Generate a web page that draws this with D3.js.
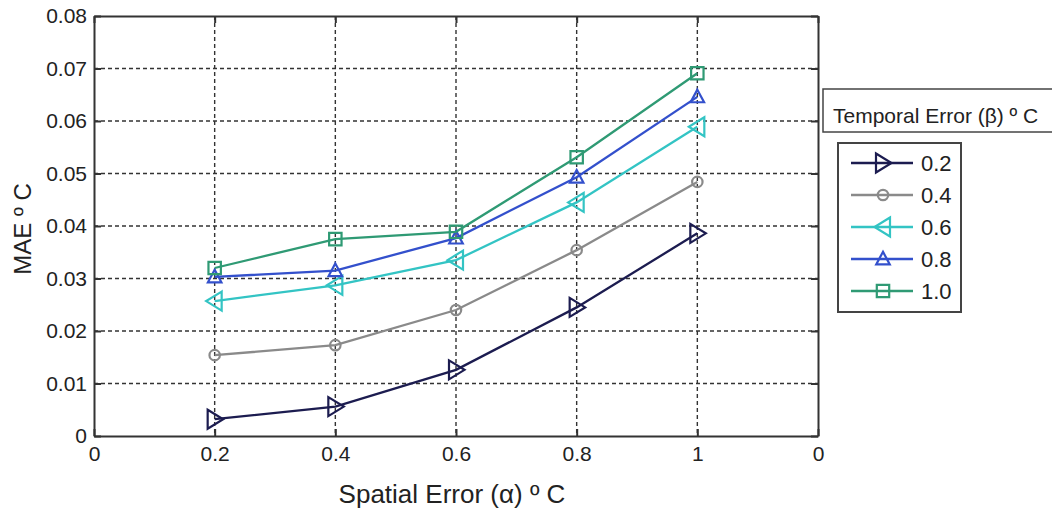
<!DOCTYPE html>
<html><head><meta charset="utf-8">
<script src="https://cdn.jsdelivr.net/npm/d3@7"></script>
<style>
body{margin:0;background:#fff;}
text{font-family:"Liberation Sans",Arial,sans-serif;fill:#222;}
</style></head>
<body><svg id="c" width="1052" height="514"></svg>
<script>
const xValues = [0.2, 0.4, 0.6, 0.8, 1.0];
const xTickValues = [0, 0.2, 0.4, 0.6, 0.8, 1.0, 1.2];
const xTickLabels = ["0", "0.2", "0.4", "0.6", "0.8", "1", "0"];
const yTickValues = [0, 0.01, 0.02, 0.03, 0.04, 0.05, 0.06, 0.07, 0.08];
const seriesNames = ["0.2", "0.4", "0.6", "0.8", "1.0"];
const s02 = [0.0032, 0.0056, 0.0126, 0.0245, 0.0386];
const s04 = [0.0154, 0.0173, 0.0240, 0.0354, 0.0484];
const s06 = [0.0257, 0.0287, 0.0335, 0.0445, 0.0589];
const s08 = [0.0303, 0.0315, 0.0377, 0.0493, 0.0646];
const s10 = [0.0320, 0.0375, 0.0389, 0.0531, 0.0691];
const seriesValues = [s02, s04, s06, s08, s10];
const colors = ["#1c1c50", "#8a8a8a", "#33c4c4", "#3350cc", "#2f9a74"];
const markers = ["triRight", "circle", "triLeft", "triUp", "square"];

const svg = d3.select("#c");
const L = 94, R = 818, T = 16, B = 436;
const x = d3.scaleLinear().domain([0, 1.2]).range([L, R]);
const y = d3.scaleLinear().domain([0, 0.08]).range([B, T]);

// grid
const g = svg.append("g");
g.selectAll(".hg").data(yTickValues.slice(1, -1)).join("line")
  .attr("x1", L).attr("x2", R).attr("y1", d => y(d)).attr("y2", d => y(d))
  .attr("stroke", "#333").attr("stroke-width", 1.4).attr("stroke-dasharray", "4,3");
g.selectAll(".vg").data(xTickValues.slice(1, -1)).join("line")
  .attr("y1", T).attr("y2", B).attr("x1", d => x(d)).attr("x2", d => x(d))
  .attr("stroke", "#333").attr("stroke-width", 1.4).attr("stroke-dasharray", "4,3");

// axes
const fs = 21;
const xAxis = d3.axisBottom(x).tickValues(xTickValues).tickSizeInner(-7).tickSizeOuter(0)
  .tickPadding(17).tickFormat((d, i) => xTickLabels[i]);
const xa = svg.append("g").attr("transform", `translate(0,${B})`).call(xAxis);
const yAxis = d3.axisLeft(y).tickValues(yTickValues).tickSizeInner(-7).tickSizeOuter(0)
  .tickPadding(7).tickFormat(d => d === 0 ? "0" : d3.format(".2f")(d));
const ya = svg.append("g").attr("transform", `translate(${L},0)`).call(yAxis);
const xt = svg.append("g").attr("transform", `translate(0,${T})`)
  .call(d3.axisTop(x).tickValues(xTickValues).tickSizeInner(-7).tickSizeOuter(0).tickFormat(""));
const yr = svg.append("g").attr("transform", `translate(${R},0)`)
  .call(d3.axisRight(y).tickValues(yTickValues).tickSizeInner(-7).tickSizeOuter(0).tickFormat(""));
[xa, ya, xt, yr].forEach(a => {
  a.select(".domain").attr("stroke", "#333").attr("stroke-width", 2);
  a.selectAll(".tick line").attr("stroke", "#333").attr("stroke-width", 2);
  a.selectAll("text").attr("font-size", fs).attr("fill", "#222")
   .style("font-family", '"Liberation Sans",Arial,sans-serif');
});
xa.selectAll("text").attr("dy", "0.4em");

// marker generator
function markerPath(type, r) {
  switch (type) {
    case "triRight": return `M${-r*0.7},${-r*0.95}L${r*0.85},0L${-r*0.7},${r*0.95}Z`;
    case "triLeft": return `M${r*0.7},${-r*0.95}L${-r*0.85},0L${r*0.7},${r*0.95}Z`;
    case "triUp": return `M0,${-r*0.8}L${r*0.75},${r*0.6}L${-r*0.75},${r*0.6}Z`;
    case "square": return `M${-r*0.62},${-r*0.62}H${r*0.62}V${r*0.62}H${-r*0.62}Z`;
    case "circle": return d3.symbol(d3.symbolCircle, Math.PI * (r*0.65) * (r*0.65))();
  }
}
const msize = [10, 8, 10, 9, 10];

const line = d3.line().x((d, i) => x(xValues[i])).y(d => y(d));
seriesValues.forEach((vals, k) => {
  const gs = svg.append("g");
  gs.append("path").attr("d", line(vals)).attr("fill", "none")
    .attr("stroke", colors[k]).attr("stroke-width", 2.3);
  gs.selectAll("path.m").data(vals).join("path").attr("class", "m")
    .attr("transform", (d, i) => `translate(${x(xValues[i])},${y(d)})`)
    .attr("d", markerPath(markers[k], msize[k]))
    .attr("fill", "none").attr("stroke", colors[k]).attr("stroke-width", 2.2);
});

// axis titles
svg.append("text").attr("x", 452).attr("y", 503).attr("text-anchor", "middle")
  .attr("font-size", 26).text("Spatial Error (α) º C");
svg.append("text").attr("transform", "translate(31,229) rotate(-90)").attr("text-anchor", "middle")
  .attr("font-size", 24).text("MAE º C");

// legend title box
svg.append("rect").attr("x", 823).attr("y", 89).attr("width", 240).attr("height", 43)
  .attr("fill", "#fff").attr("stroke", "#444").attr("stroke-width", 1.5);
svg.append("text").attr("x", 833).attr("y", 123).attr("font-size", 21)
  .text("Temporal Error (β) º C");

// legend
svg.append("rect").attr("x", 838).attr("y", 143).attr("width", 123).attr("height", 169)
  .attr("fill", "#fff").attr("stroke", "#444").attr("stroke-width", 2);
const ly = d3.scaleBand().domain(seriesNames).range([147, 307]);
seriesNames.forEach((nm, k) => {
  const cy = ly(nm) + ly.bandwidth() / 2;
  svg.append("line").attr("x1", 851).attr("x2", 913).attr("y1", cy).attr("y2", cy)
    .attr("stroke", colors[k]).attr("stroke-width", 2.5);
  svg.append("path").attr("transform", `translate(883,${cy})`).attr("d", markerPath(markers[k], msize[k]))
    .attr("fill", "none").attr("stroke", colors[k]).attr("stroke-width", 2.2);
  svg.append("text").attr("x", 921).attr("y", cy).attr("dy", "0.36em").attr("font-size", 22).text(nm);
});
</script></body></html>
